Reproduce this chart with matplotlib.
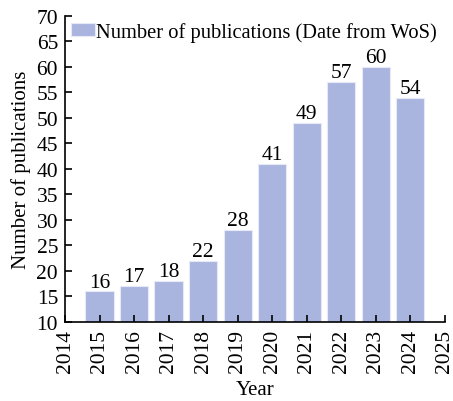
import matplotlib
matplotlib.use("Agg")
import matplotlib.pyplot as plt

years = [2015, 2016, 2017, 2018, 2019, 2020, 2021, 2022, 2023, 2024]
counts = [16, 17, 18, 22, 28, 41, 49, 57, 60, 54]
xticks = list(range(2014, 2026))
yticks = list(range(10, 75, 5))

plt.rcParams["font.family"] = ["Liberation Serif", "DejaVu Serif"]
plt.rcParams["font.size"] = 15.5

fig = plt.figure(figsize=(4.53, 4.02), dpi=100)
ax = fig.add_axes([0.1435, 0.1965, 0.8385, 0.7615])

bars = ax.bar(years, counts, width=0.82, color="#aab5df", edgecolor="#e6e9f6",
              linewidth=0.8, label="Number of publications (Date from WoS)")
for x, v in zip(years, counts):
    ax.text(x, v + 0.95, str(v), ha="center", va="baseline", fontsize=15.5)

ax.set_xlim(2014, 2025)
ax.set_ylim(10, 70)
ax.set_xticks(xticks)
ax.set_xticklabels([str(t) for t in xticks], rotation=90)
ax.set_yticks(yticks)
ax.tick_params(direction="in", length=5, width=1.2, pad=5)
for s in ["top", "right"]:
    ax.spines[s].set_visible(False)
for s in ["left", "bottom"]:
    ax.spines[s].set_linewidth(1.2)

ax.set_xlabel("Year", fontsize=15, labelpad=5.5)
ax.set_ylabel("Number of publications", fontsize=15, labelpad=4)
ax.legend(loc="upper left", frameon=False, fontsize=14.8, handlelength=1.17,
          handleheight=0.55, handletextpad=0.05, borderaxespad=0.1, borderpad=0.2)

fig.savefig("out.png", dpi=100)
